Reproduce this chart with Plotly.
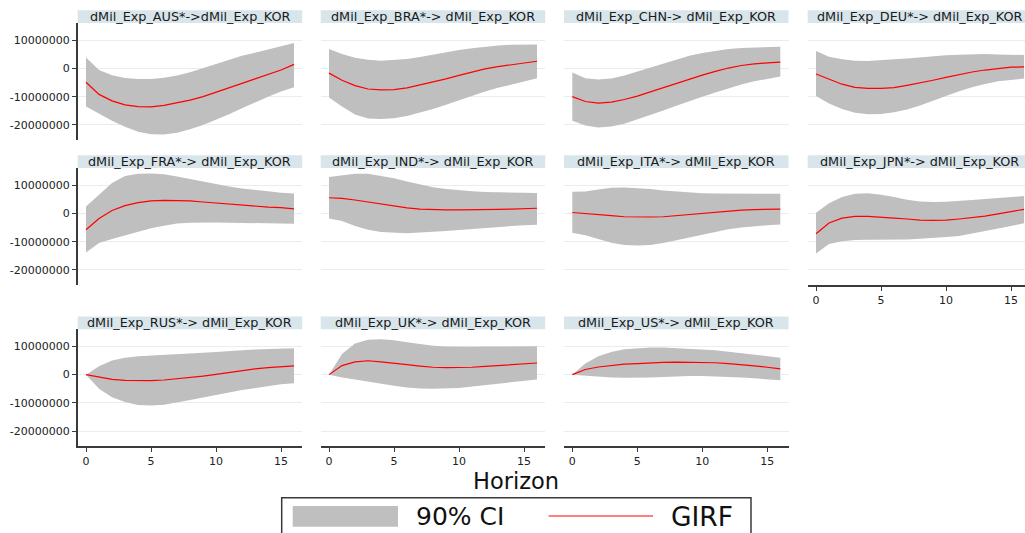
import plotly.graph_objects as go

W, H = 1025, 533
horizon = list(range(17))

panel_titles = [
    "dMil_Exp_AUS*->dMil_Exp_KOR", "dMil_Exp_BRA*-> dMil_Exp_KOR",
    "dMil_Exp_CHN-> dMil_Exp_KOR", "dMil_Exp_DEU*-> dMil_Exp_KOR",
    "dMil_Exp_FRA*-> dMil_Exp_KOR", "dMil_Exp_IND*-> dMil_Exp_KOR",
    "dMil_Exp_ITA*-> dMil_Exp_KOR", "dMil_Exp_JPN*-> dMil_Exp_KOR",
    "dMil_Exp_RUS*-> dMil_Exp_KOR", "dMil_Exp_UK*-> dMil_Exp_KOR",
    "dMil_Exp_US*-> dMil_Exp_KOR",
]

# values in millions
aus_girf = [-4.9, -9.2, -11.5, -12.9, -13.5, -13.6, -13.1, -12.2, -11.2, -10.0, -8.5, -6.9, -5.3, -3.7, -2.2, -0.6, 1.4]
aus_hi = [3.8, -0.6, -2.4, -3.4, -3.8, -3.8, -3.3, -2.5, -1.4, 0.0, 1.5, 2.9, 4.4, 5.5, 6.6, 7.8, 8.9]
aus_lo = [-13.5, -15.9, -18.5, -20.6, -22.4, -23.3, -23.4, -22.7, -21.5, -20.0, -18.2, -16.2, -14.1, -12.0, -10.0, -8.2, -6.7]

bra_girf = [-1.7, -4.2, -6.1, -7.3, -7.6, -7.5, -6.9, -5.9, -4.9, -3.7, -2.5, -1.3, -0.2, 0.6, 1.2, 1.7, 2.5]
bra_hi = [6.8, 5.1, 3.7, 3.0, 2.7, 2.9, 3.3, 4.0, 4.9, 5.7, 6.5, 7.1, 7.7, 8.1, 8.3, 8.4, 8.4]
bra_lo = [-10.3, -13.5, -16.3, -17.7, -17.9, -17.6, -16.8, -15.7, -14.4, -12.9, -11.3, -9.7, -8.2, -6.9, -5.7, -4.7, -3.5]

chn_girf = [-10.0, -11.7, -12.3, -11.9, -11.0, -9.8, -8.3, -6.8, -5.2, -3.8, -2.4, -1.1, 0.1, 1.0, 1.6, 1.9, 2.2]
chn_hi = [-1.5, -3.5, -3.9, -3.6, -2.5, -1.1, 0.4, 1.8, 3.2, 4.4, 5.4, 6.2, 6.8, 7.2, 7.4, 7.5, 7.6]
chn_lo = [-18.5, -20.2, -20.9, -20.5, -19.6, -18.1, -16.6, -14.9, -13.2, -11.5, -10.0, -8.5, -7.0, -5.7, -4.6, -3.7, -2.9]

deu_girf = [-2.0, -3.9, -5.6, -6.7, -7.1, -7.1, -6.8, -6.0, -5.2, -4.2, -3.2, -2.2, -1.3, -0.6, 0.0, 0.4, 0.5]
deu_hi = [6.1, 4.1, 3.2, 2.7, 2.6, 2.8, 3.2, 3.5, 3.9, 4.2, 4.6, 4.8, 4.9, 5.1, 4.9, 4.8, 4.7]
deu_lo = [-9.8, -12.4, -14.4, -15.7, -16.2, -16.1, -15.5, -14.5, -13.1, -11.4, -9.8, -8.1, -6.7, -5.5, -4.6, -4.0, -3.6]

fra_girf = [-5.8, -1.8, 1.0, 2.7, 3.8, 4.4, 4.6, 4.6, 4.4, 4.0, 3.6, 3.3, 3.0, 2.6, 2.2, 2.0, 1.6]
fra_hi = [2.4, 6.5, 10.7, 13.2, 14.0, 14.1, 13.8, 13.0, 12.1, 11.2, 10.4, 9.5, 8.8, 8.2, 7.8, 7.3, 7.0]
fra_lo = [-13.8, -10.5, -9.1, -7.8, -6.5, -5.3, -4.4, -3.6, -3.3, -3.2, -3.2, -3.3, -3.4, -3.6, -3.6, -3.7, -3.7]

ind_girf = [5.5, 5.3, 4.7, 4.0, 3.2, 2.5, 1.9, 1.5, 1.3, 1.2, 1.2, 1.2, 1.3, 1.4, 1.5, 1.6, 1.8]
ind_hi = [12.8, 13.3, 14.0, 14.0, 13.3, 12.4, 11.2, 10.1, 9.2, 8.6, 8.1, 7.8, 7.5, 7.4, 7.3, 7.3, 7.2]
ind_lo = [-1.8, -2.7, -4.5, -5.8, -6.6, -6.9, -7.0, -6.8, -6.6, -6.2, -5.9, -5.5, -5.2, -4.8, -4.5, -4.2, -4.0]

ita_girf = [0.3, 0.0, -0.5, -0.8, -1.2, -1.3, -1.3, -1.2, -0.8, -0.5, 0.0, 0.5, 0.8, 1.1, 1.3, 1.4, 1.5]
ita_hi = [7.6, 7.7, 8.4, 9.0, 9.1, 8.9, 8.6, 8.1, 7.7, 7.3, 7.1, 7.0, 7.0, 7.0, 6.9, 6.9, 6.9]
ita_lo = [-6.9, -7.7, -9.1, -10.4, -11.2, -11.4, -11.2, -10.5, -9.5, -8.5, -7.4, -6.4, -5.6, -5.0, -4.5, -4.2, -3.9]

jpn_girf = [-7.2, -3.4, -1.7, -1.1, -1.1, -1.3, -1.7, -2.0, -2.4, -2.5, -2.4, -2.0, -1.6, -1.0, -0.2, 0.5, 1.4]
jpn_hi = [0.2, 3.6, 5.8, 6.9, 7.1, 6.6, 5.8, 4.8, 4.2, 4.0, 4.1, 4.3, 4.7, 5.1, 5.4, 5.8, 6.1]
jpn_lo = [-14.2, -10.8, -9.9, -9.4, -9.3, -9.3, -9.3, -9.2, -9.0, -8.8, -8.4, -8.0, -7.2, -6.4, -5.4, -4.5, -3.5]

rus_girf = [0.0, -0.9, -1.7, -2.0, -2.1, -2.1, -1.9, -1.5, -1.1, -0.5, 0.1, 0.8, 1.4, 2.0, 2.5, 2.8, 3.1]
rus_hi = [0.0, 3.0, 5.0, 6.0, 6.5, 6.7, 6.9, 7.1, 7.3, 7.7, 8.0, 8.4, 8.6, 8.9, 9.1, 9.2, 9.3]
rus_lo = [0.0, -5.0, -8.0, -9.7, -10.7, -10.9, -10.6, -9.9, -9.0, -8.1, -7.1, -6.3, -5.4, -4.7, -4.0, -3.4, -3.0]

uk_girf = [0.0, 3.2, 4.5, 4.9, 4.5, 4.1, 3.5, 3.0, 2.6, 2.5, 2.5, 2.6, 2.9, 3.2, 3.5, 3.7, 4.1]
uk_hi = [0.0, 7.3, 11.0, 12.3, 12.5, 12.1, 11.4, 10.7, 10.2, 9.9, 9.8, 9.8, 9.9, 9.9, 10.0, 10.0, 10.0]
uk_lo = [0.0, -1.0, -1.7, -2.5, -3.2, -3.9, -4.5, -4.9, -5.0, -4.9, -4.7, -4.2, -3.7, -3.1, -2.5, -2.0, -1.7]

us_girf = [0.0, 1.8, 2.7, 3.3, 3.7, 3.9, 4.2, 4.3, 4.4, 4.4, 4.4, 4.2, 3.9, 3.6, 3.1, 2.6, 2.0]
us_hi = [0.0, 3.9, 6.5, 8.0, 9.0, 9.4, 9.6, 9.6, 9.4, 9.2, 9.0, 8.6, 8.1, 7.6, 7.2, 6.6, 6.0]
us_lo = [0.0, -0.4, -0.8, -1.0, -1.1, -1.1, -1.0, -0.8, -0.6, -0.5, -0.5, -0.6, -0.7, -1.0, -1.3, -1.7, -2.0]

ytick_vals = [-20000000, -10000000, 0, 10000000]
ytick_text = ["-20000000", "-10000000", "0", "10000000"]
xtick_vals = [0, 5, 10, 15]
legend_labels = ["90% CI", "GIRF"]
xaxis_title = "Horizon"

panels = [
    (aus_girf, aus_lo, aus_hi), (bra_girf, bra_lo, bra_hi),
    (chn_girf, chn_lo, chn_hi), (deu_girf, deu_lo, deu_hi),
    (fra_girf, fra_lo, fra_hi), (ind_girf, ind_lo, ind_hi),
    (ita_girf, ita_lo, ita_hi), (jpn_girf, jpn_lo, jpn_hi),
    (rus_girf, rus_lo, rus_hi), (uk_girf, uk_lo, uk_hi),
    (us_girf, us_lo, us_hi),
]

# ---- layout geometry (pixels) ----
col_left = [77.7, 320.7, 564.0, 807.7]
panel_w = 224.5
row_top = [23.0, 168.0, 329.3]
panel_h = 117.0
strip_h = 12.7
px_per_unit = 13.0
x_start = -0.64
y_range = [-25.3e6, 16.0e6]

BAND = "#bfbfbf"
RED = "#ff0000"
STRIP = "#d8e5eb"
GRID = "#e6eef1"
AXIS = "#3a3a3a"
FONT = "DejaVu Sans"


def fx(p):
    return p / W


def fy(p):
    return 1 - p / H


fig = go.Figure()
layout = {}
shapes = []
annotations = []

for i, (girf, lo, hi) in enumerate(panels):
    r, c = divmod(i, 4)
    n = i + 1
    xa = "x" if n == 1 else f"x{n}"
    ya = "y" if n == 1 else f"y{n}"
    left = col_left[c]
    right = min(left + panel_w, W)
    top = row_top[r]
    bottom = top + panel_h

    scale = 1e6
    fig.add_trace(go.Scatter(x=horizon, y=[v * scale for v in lo], mode="lines",
                             line=dict(width=0, color=BAND), xaxis=xa, yaxis=ya,
                             showlegend=False, hoverinfo="skip"))
    fig.add_trace(go.Scatter(x=horizon, y=[v * scale for v in hi], mode="lines",
                             line=dict(width=0, color=BAND), fill="tonexty",
                             fillcolor=BAND, xaxis=xa, yaxis=ya,
                             showlegend=False, hoverinfo="skip"))
    fig.add_trace(go.Scatter(x=horizon, y=[v * scale for v in girf], mode="lines",
                             line=dict(width=1.2, color=RED), xaxis=xa, yaxis=ya,
                             showlegend=False))

    show_x = (r == 2) or (i == 7)
    show_y = (c == 0)
    x_end = x_start + (right - left) / px_per_unit

    xname = "xaxis" if n == 1 else f"xaxis{n}"
    yname = "yaxis" if n == 1 else f"yaxis{n}"
    layout[xname] = dict(
        domain=[fx(left), fx(right)], anchor=ya, range=[x_start, x_end],
        showgrid=False, zeroline=False, tickvals=xtick_vals,
        showticklabels=show_x, showline=show_x, linecolor=AXIS, linewidth=1.5,
        ticks="outside" if show_x else "", ticklen=4, tickcolor=AXIS, tickwidth=1,
        tickfont=dict(family=FONT, size=11, color="#222"), fixedrange=True,
    )
    layout[yname] = dict(
        domain=[fy(bottom), fy(top)], anchor=xa, range=y_range,
        showgrid=True, gridcolor=GRID, gridwidth=1, zeroline=False,
        tickvals=ytick_vals, ticktext=ytick_text,
        showticklabels=show_y, showline=show_y, linecolor=AXIS, linewidth=1.5,
        ticks="outside" if show_y else "", ticklen=4, tickcolor=AXIS, tickwidth=1,
        tickfont=dict(family=FONT, size=11, color="#222"), fixedrange=True,
    )

    # strip title
    shapes.append(dict(type="rect", xref="paper", yref="paper",
                       x0=fx(left), x1=fx(right), y0=fy(top), y1=fy(top - strip_h),
                       fillcolor=STRIP, line=dict(width=0), layer="below"))
    annotations.append(dict(text=panel_titles[i], xref="paper", yref="paper",
                            x=fx((left + left + panel_w) / 2), y=fy(top - strip_h / 2),
                            xanchor="center", yanchor="middle", showarrow=False,
                            font=dict(family=FONT, size=12.8, color="#1a1a1a")))

# x-axis title
annotations.append(dict(text=xaxis_title, xref="paper", yref="paper",
                        x=fx(515.5), y=fy(481), xanchor="center", yanchor="middle",
                        showarrow=False, font=dict(family=FONT, size=22.5, color="#111")))

# legend box (manual)
shapes.append(dict(type="rect", xref="paper", yref="paper",
                   x0=fx(281.7), x1=fx(751), y0=fy(545), y1=fy(497.7),
                   fillcolor="white", line=dict(color=AXIS, width=1.5)))
shapes.append(dict(type="rect", xref="paper", yref="paper",
                   x0=fx(292.7), x1=fx(398), y0=fy(526.7), y1=fy(506),
                   fillcolor=BAND, line=dict(width=0)))
shapes.append(dict(type="line", xref="paper", yref="paper",
                   x0=fx(548.7), x1=fx(653), y0=fy(516), y1=fy(516),
                   line=dict(color=RED, width=1.2)))
annotations.append(dict(text=legend_labels[0], xref="paper", yref="paper",
                        x=fx(414), y=fy(516), xanchor="left", yanchor="middle",
                        showarrow=False, font=dict(family=FONT, size=25, color="#111")))
annotations.append(dict(text=legend_labels[1], xref="paper", yref="paper",
                        x=fx(669), y=fy(516), xanchor="left", yanchor="middle",
                        showarrow=False, font=dict(family=FONT, size=26.5, color="#111")))

fig.update_layout(
    width=W, height=H, margin=dict(l=0, r=0, t=0, b=0, pad=0),
    paper_bgcolor="white", plot_bgcolor="white", showlegend=False,
    shapes=shapes, annotations=annotations, **layout,
)

fig.write_html("out.html", config={"displayModeBar": False},
               post_script="document.body.style.margin='0';document.body.style.overflow='hidden';")
